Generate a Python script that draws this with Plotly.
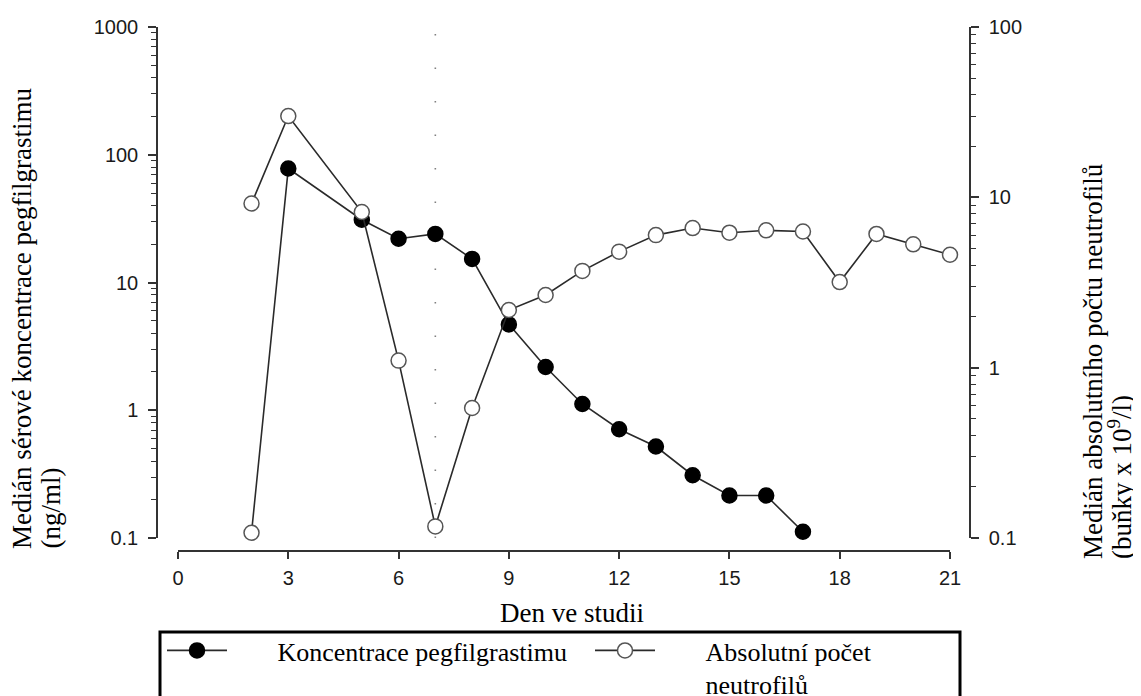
import plotly.graph_objects as go

# ---------------- data ----------------
conc_days = [2, 3, 5, 6, 7, 8, 9, 10, 11, 12, 13, 14, 15, 16, 17]
conc_vals = [0.11, 78, 31, 22, 24, 15.3, 4.7, 2.18, 1.12, 0.71, 0.52, 0.31, 0.215, 0.215, 0.112]
conc_fill = ["white"] + ["black"] * 14   # first sample drawn as an open marker

anc_days = [2, 3, 5, 6, 7, 8, 9, 10, 11, 12, 13, 14, 15, 16, 17, 18, 19, 20, 21]
anc_vals = [9.2, 30, 8.2, 1.1, 0.117, 0.58, 2.18, 2.67, 3.7, 4.8, 6.0, 6.6, 6.2, 6.4, 6.3, 3.18, 6.1, 5.3, 4.6]

x_ticks = [0, 3, 6, 9, 12, 15, 18, 21]
left_ticks = [0.1, 1, 10, 100, 1000]
left_text = ["0.1", "1", "10", "100", "1000"]
right_ticks = [0.1, 1, 10, 100]
right_text = ["0.1", "1", "10", "100"]
marker_day = 7

name_conc = "Koncentrace pegfilgrastimu"
name_anc = "Absolutní počet<br>neutrofilů"
x_title = "Den ve studii"
yl_title = ["Medián sérové koncentrace pegfilgrastimu", "(ng/ml)"]
yr_title = ["Medián absolutního počtu neutrofilů", "(buňky x 10<sup>9</sup>/l)"]

# ---------------- geometry (screen px) ----------------
W, H = 1141, 696
OFF = 8                                  # page body margin
L, R, T, B = 157, 970, 27, 551           # plot-area box on screen
X0, X21 = 178, 950                       # screen x of day 0 / day 21
YBOT = 538                               # screen y of value 0.1
pw, ph = R - L, B - T


def px_x(p):
    return (p - L) / pw


def px_y(p):
    return (B - p) / ph


def minor_vals(lo, hi):
    out = []
    d = lo
    while d < hi:
        for k in range(2, 10):
            out.append(round(d * k, 6))
        d *= 10
    return out


SERIF = "Liberation Serif, Times New Roman, serif"
SANS = "Liberation Sans, Arial, sans-serif"
NB = "\u00a0" * 7

fig = go.Figure()

fig.add_trace(go.Scatter(
    x=conc_days[::-1], y=conc_vals[::-1], yaxis="y", mode="lines+markers",
    name=NB + name_conc, cliponaxis=False, legend="legend",
    line=dict(color="#2a2a2a", width=1.6),
    marker=dict(size=15, color=conc_fill[::-1],
                line=dict(color=["#555" if c == "white" else "black" for c in conc_fill[::-1]], width=1.5)),
))
fig.add_trace(go.Scatter(
    x=anc_days, y=anc_vals, yaxis="y2", mode="lines+markers",
    name=NB + name_anc.replace("<br>", "<br>" + NB), cliponaxis=False, legend="legend2",
    line=dict(color="#2a2a2a", width=1.6),
    marker=dict(size=15, color="white", line=dict(color="#555", width=1.5)),
))

fig.add_shape(type="line", xref="x", yref="y domain", x0=marker_day, x1=marker_day,
              y0=0, y1=1, line=dict(color="#808080", width=1.6, dash="1.5px,32px"), layer="below")

# legend frame
fig.add_shape(type="rect", xref="paper", yref="paper",
              x0=px_x(160), x1=px_x(960), y0=px_y(710), y1=px_y(632),
              line=dict(color="black", width=3))

axis_common = dict(showgrid=False, zeroline=False, showline=True, linecolor="#333", linewidth=1.5,
                   ticks="outside", tickcolor="#333", tickwidth=1.5,
                   tickfont=dict(family=SANS, size=20, color="#1a1a1a"))

leg_common = dict(orientation="h", xanchor="left", yanchor="top", y=px_y(627),
                  bgcolor="rgba(0,0,0,0)", borderwidth=0, itemwidth=60, valign="top",
                  font=dict(family=SERIF, size=26, color="black"))

fig.update_layout(
    width=W, height=H,
    margin=dict(l=L - OFF, r=W - (R - OFF), t=T - OFF, b=H - (B - OFF), autoexpand=False),
    paper_bgcolor="white", plot_bgcolor="white",
    xaxis=dict(**axis_common, domain=[px_x(X0), px_x(X21)], range=[0, 21],
               anchor="free", position=0, tickvals=x_ticks, ticklen=7, ticklabelstandoff=2),
    yaxis=dict(**axis_common, type="log", range=[-1, 3], domain=[px_y(YBOT), 1],
               anchor="free", position=0, tickvals=left_ticks, ticktext=left_text, ticklen=8,
               ticklabelstandoff=6,
               minor=dict(tickvals=minor_vals(0.1, 1000), ticks="outside", ticklen=5,
                          tickcolor="#333", tickwidth=1.2)),
    yaxis2=dict(**axis_common, type="log", range=[-1, 2], domain=[px_y(YBOT), 1],
                anchor="free", position=1, overlaying="y", side="right",
                tickvals=right_ticks, ticktext=right_text, ticklen=8, ticklabelstandoff=6,
                minor=dict(tickvals=minor_vals(0.1, 100), ticks="outside", ticklen=5,
                           tickcolor="#333", tickwidth=1.2)),
    showlegend=True,
    legend=dict(**leg_common, x=px_x(162)),
    legend2=dict(**leg_common, x=px_x(590)),
)

# axis titles as annotations
fig.add_annotation(text=x_title, xref="paper", yref="paper", x=px_x(572), y=px_y(613),
                   xanchor="center", yanchor="middle", showarrow=False,
                   font=dict(family=SERIF, size=27, color="black"))
for txt, cx in zip(yl_title, [22, 50]):
    fig.add_annotation(text=txt, xref="paper", yref="paper", x=px_x(cx), y=px_y(551),
                       xanchor="center", yanchor="bottom", textangle=-90, showarrow=False,
                       font=dict(family=SERIF, size=27, color="black"))
for txt, cx in zip(yr_title, [1093, 1120]):
    fig.add_annotation(text=txt, xref="paper", yref="paper", x=px_x(cx), y=px_y(561),
                       xanchor="center", yanchor="bottom", textangle=-90, showarrow=False,
                       font=dict(family=SERIF, size=27, color="black"))

fig.write_html("out.html")
